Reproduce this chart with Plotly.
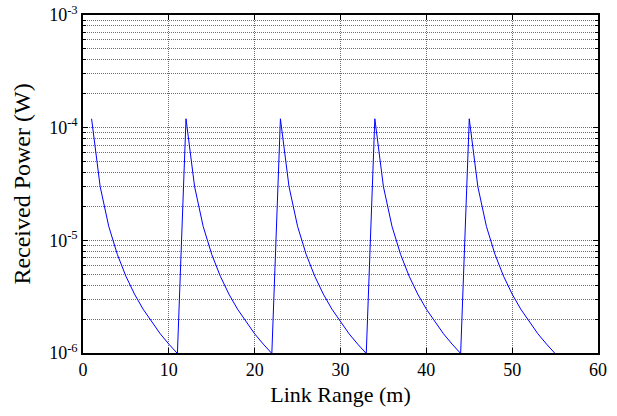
import plotly.graph_objects as go

link_range = list(range(1, 56))
received_power = [
    1.2e-4, 3.0e-5, 1.33e-5, 7.5e-6, 4.8e-6, 3.33e-6, 2.45e-6, 1.88e-6, 1.48e-6, 1.2e-6, 9.9e-7,
    1.2e-4, 3.0e-5, 1.33e-5, 7.5e-6, 4.8e-6, 3.33e-6, 2.45e-6, 1.88e-6, 1.48e-6, 1.2e-6, 9.9e-7,
    1.2e-4, 3.0e-5, 1.33e-5, 7.5e-6, 4.8e-6, 3.33e-6, 2.45e-6, 1.88e-6, 1.48e-6, 1.2e-6, 9.9e-7,
    1.2e-4, 3.0e-5, 1.33e-5, 7.5e-6, 4.8e-6, 3.33e-6, 2.45e-6, 1.88e-6, 1.48e-6, 1.2e-6, 9.9e-7,
    1.2e-4, 3.0e-5, 1.33e-5, 7.5e-6, 4.8e-6, 3.33e-6, 2.45e-6, 1.88e-6, 1.48e-6, 1.2e-6, 9.9e-7,
]

x_ticks = [0, 10, 20, 30, 40, 50, 60]
y_ticks = [1e-6, 1e-5, 1e-4, 1e-3]
y_tick_labels = ["10<sup>-6</sup>", "10<sup>-5</sup>", "10<sup>-4</sup>", "10<sup>-3</sup>"]
y_minor = [m * 10.0 ** e for e in (-6, -5, -4) for m in range(2, 10)]

font = "Liberation Serif"
grid = "#6e6e6e"
dash = "1px,1px"

fig = go.Figure()
fig.add_trace(go.Scatter(
    x=link_range, y=received_power, mode="lines",
    line=dict(color="#0000ff", width=1), showlegend=False,
))

fig.update_layout(
    width=617, height=416,
    margin=dict(l=83, r=19, t=15, b=63),
    paper_bgcolor="white", plot_bgcolor="white",
    font=dict(family=font, size=18, color="black"),
    xaxis=dict(
        range=[0, 60], tickvals=x_ticks, ticktext=[str(v) for v in x_ticks],
        ticks="inside", ticklen=5, tickcolor="black", tickwidth=1,
        showline=True, linecolor="black", linewidth=1.5, mirror="allticks",
        showgrid=True, gridcolor=grid, griddash=dash, gridwidth=1,
        zeroline=False, automargin=False,
        title=dict(text="Link Range (m)", font=dict(family=font, size=22), standoff=7),
    ),
    yaxis=dict(
        type="log", range=[-6, -3], tickvals=y_ticks, ticktext=y_tick_labels,
        ticks="inside", ticklen=5, tickcolor="black", tickwidth=1,
        showline=True, linecolor="black", linewidth=1.5, mirror="allticks",
        showgrid=True, gridcolor=grid, griddash=dash, gridwidth=1,
        zeroline=False, automargin=False,
        minor=dict(tickvals=y_minor, ticks="inside", ticklen=3, tickcolor="black",
                   showgrid=True, gridcolor=grid, griddash=dash, gridwidth=1),
        title=dict(text="Received Power (W)", font=dict(family=font, size=24), standoff=12),
    ),
)

fig.write_html(
    "out.html",
    config={"displayModeBar": False},
    post_script="document.body.style.margin='0';document.body.style.overflow='hidden';",
)
